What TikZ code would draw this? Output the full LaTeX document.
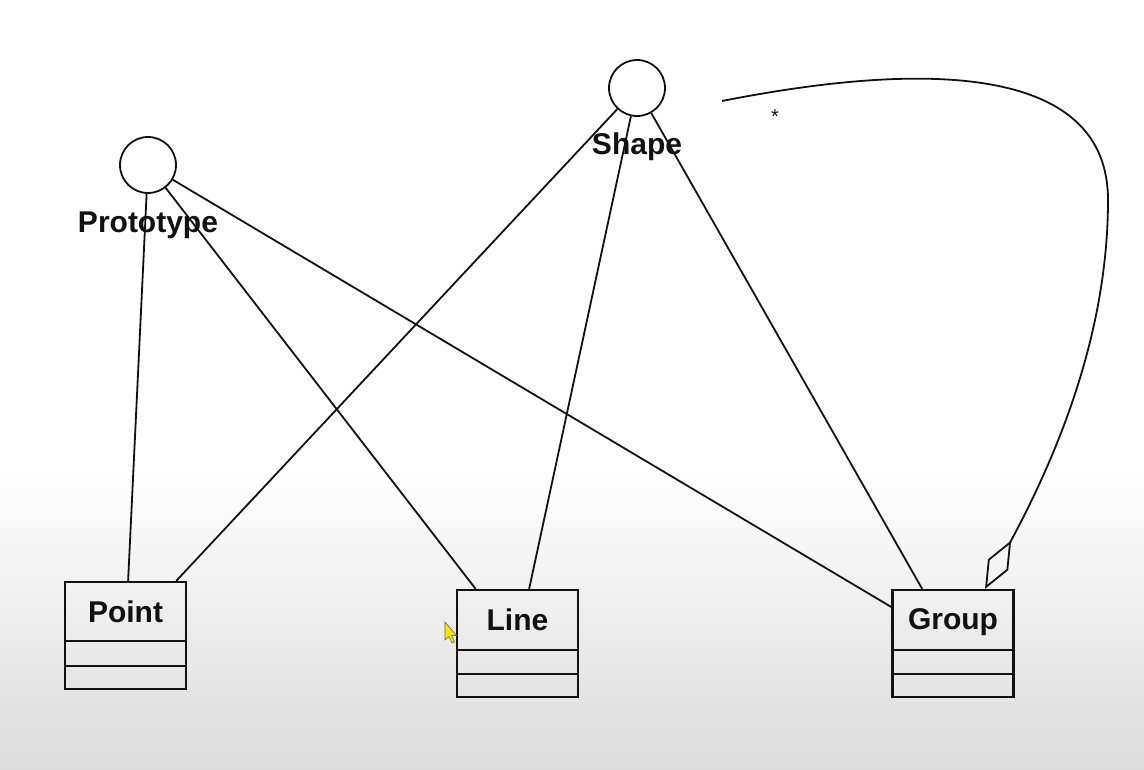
\documentclass[tikz,border=0pt]{standalone}
\usepackage{fontspec}
\setmainfont{Liberation Sans}
\usetikzlibrary{arrows.meta,calc}
\definecolor{ink}{HTML}{111111}
\tikzset{
  iface/.style={circle,draw=ink,line width=1.8pt,minimum size=56pt,inner sep=0pt},
  ilabel/.style={font=\fontsize{30}{36}\selectfont\bfseries,text=ink,inner sep=0pt,anchor=base},
  classbox/.style={draw=ink,line width=2.2pt,minimum width=121pt,minimum height=107pt,inner sep=0pt},
  cname/.style={font=\fontsize{30}{36}\selectfont\bfseries,text=ink,inner sep=0pt,anchor=base},
  conn/.style={draw=ink,line width=1.8pt},
  aggr/.style={draw=ink,line width=1.8pt,-{Diamond[open,length=55pt,width=23pt]}},
}
\begin{document}
\begin{tikzpicture}[x=1pt,y=-1pt]
\useasboundingbox (0,0) rectangle (1144,770);
\fill[white] (0,0) rectangle (1144,770);
\shade[top color=white,bottom color=black!14] (0,470) rectangle (1144,770);

% interfaces
\node[iface] (proto) at (148,165) {};
\node[ilabel] (protolbl) at (148,233) {Prototype};
\node[iface] (shape) at (637,88) {};
\node[ilabel] (shapelbl) at (637,155) {Shape};

% classes
\node[classbox] (point) at (125.5,635.5) {};
\node[cname] (pointlbl) at (125.5,622) {Point};
\draw[ink,line width=2.2pt] ($(point.north west)+(0,60)$) -- ($(point.north east)+(0,60)$);
\draw[ink,line width=2.2pt] ($(point.north west)+(0,85)$) -- ($(point.north east)+(0,85)$);

\node[classbox] (line) at (517.5,643.5) {};
\node[cname] (linelbl) at (517.5,630) {Line};
\draw[ink,line width=2.2pt] ($(line.north west)+(0,61)$) -- ($(line.north east)+(0,61)$);
\draw[ink,line width=2.2pt] ($(line.north west)+(0,85)$) -- ($(line.north east)+(0,85)$);

\node[classbox] (group) at (953,643.5) {};
\node[cname] (grouplbl) at (953,629) {Group};
\draw[ink,line width=2.2pt] ($(group.north west)+(0,61)$) -- ($(group.north east)+(0,61)$);
\draw[ink,line width=2.2pt] ($(group.north west)+(0,85)$) -- ($(group.north east)+(0,85)$);

% connectors
\draw[conn] (proto) -- (point);
\draw[conn] (proto) -- (line);
\draw[conn] (proto) -- (group);
\draw[conn] (shape) -- (point);
\draw[conn] (shape) -- (line);
\draw[conn] (shape) -- (group);

% aggregation
\coordinate (sfree) at (722,101);
\coordinate (gtop) at ($(group.north west)!0.76!(group.north east)$);
\draw[aggr] (sfree) .. controls (940,58) and (1108,70) .. (1108,200)
  .. controls (1108,330) and (1060,450) .. (gtop);
\node[font=\fontsize{20}{24}\selectfont,text=ink,inner sep=0pt] (mult) at (775,117) {*};

% mouse cursor
\filldraw[fill=yellow!85!orange,draw=black!60,line width=0.6pt]
  (445,622) -- (445,640) -- (449,636.5) -- (452,643) -- (454.5,642) -- (451.5,635.5) -- (456.5,635.5) -- cycle;
\end{tikzpicture}
\end{document}
